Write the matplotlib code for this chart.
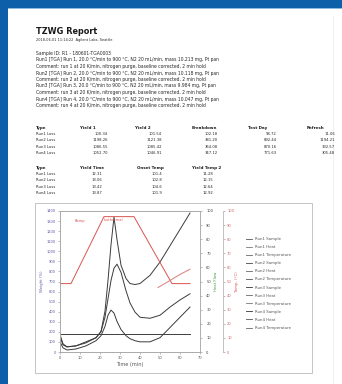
import matplotlib
matplotlib.use("Agg")
import matplotlib.pyplot as plt
from matplotlib.patches import Rectangle
from matplotlib.lines import Line2D

W, H = 342, 384

# ---- report text -------------------------------------------------------
title = "TZWG Report"
subtitle = "2018-06-01 11:14:22  Agilent Labs, Seattle"
body_lines = [
    "Sample ID: R1 - 180601-TGA0003",
    "Run1 [TGA] Run 1, 20.0 °C/min to 900 °C, N2 20 mL/min, mass 10.213 mg, Pt pan",
    "Comment: run 1 at 20 K/min, nitrogen purge, baseline corrected, 2 min hold",
    "Run2 [TGA] Run 2, 20.0 °C/min to 900 °C, N2 20 mL/min, mass 10.118 mg, Pt pan",
    "Comment: run 2 at 20 K/min, nitrogen purge, baseline corrected, 2 min hold",
    "Run3 [TGA] Run 3, 20.0 °C/min to 900 °C, N2 20 mL/min, mass 9.984 mg, Pt pan",
    "Comment: run 3 at 20 K/min, nitrogen purge, baseline corrected, 2 min hold",
    "Run4 [TGA] Run 4, 20.0 °C/min to 900 °C, N2 20 mL/min, mass 10.047 mg, Pt pan",
    "Comment: run 4 at 20 K/min, nitrogen purge, baseline corrected, 2 min hold",
]

table1_header = ["Type", "Yield 1", "Yield 2", "Breakdown", "Test Day", "Refresh"]
table1_rows = [
    ["Run1 Loss", "100.34", "101.54", "102.18", "98.72", "11.06"],
    ["Run2 Loss", "1198.26", "1121.38", "381.20", "892.44", "1194.21"],
    ["Run3 Loss", "1086.55", "1085.42", "364.08", "870.16", "332.57"],
    ["Run4 Loss", "1052.70", "1046.91", "347.12", "771.63", "305.48"],
]
table2_header = ["Type", "Yield Time", "Onset Temp", "Yield Temp 2"]
table2_rows = [
    ["Run1 Loss", "12.31", "101.4", "11.28"],
    ["Run2 Loss", "13.06", "102.8", "12.15"],
    ["Run3 Loss", "13.42", "104.6", "12.64"],
    ["Run4 Loss", "13.87", "101.9", "12.92"],
]

# ---- chart data -------------------------------------------------------
time_min = [0, 1.5, 3.5, 8, 13, 18, 20.5, 22.5, 24, 25.5, 27, 28.5,
            30.5, 33, 35, 37.5, 40, 45, 50, 55, 60, 65]
run_a = [152, 71, 51, 61, 101, 142, 203, 406, 710, 1065, 1339, 1116,
         862, 730, 680, 670, 680, 761, 893, 1055, 1217, 1380]
run_b = [172, 81, 51, 61, 91, 142, 203, 345, 528, 710, 832, 872,
         791, 609, 487, 396, 345, 335, 365, 446, 517, 578]
run_c = [101, 41, 20, 30, 61, 112, 162, 254, 365, 416, 386, 304,
         223, 162, 132, 112, 101, 101, 142, 243, 345, 446]
baseline_t = [0, 65]
baseline_v = [183, 183]

temp_t = [0, 5.5, 22, 37, 56, 65]
temp_v = [48.5, 48.5, 96, 96, 48.5, 48.5]
temp2_t = [49, 55, 60, 65]
temp2_v = [45.7, 50.7, 55.0, 58.7]

legend_labels = ["Run1 Sample", "Run1 Heat", "Run1 Temperature",
                 "Run2 Sample", "Run2 Heat", "Run2 Temperature",
                 "Run3 Sample", "Run3 Heat", "Run3 Temperature",
                 "Run4 Sample", "Run4 Heat", "Run4 Temperature"]
legend_colors = ["#555555", "#777777", "#666666",
                 "#444444", "#666666", "#555555",
                 "#333333", "#666666", "#777777",
                 "#333333", "#555555", "#666666"]


def fx(px):
    return px / W


def fy(py):
    return 1 - py / H


fig = plt.figure(figsize=(W / 100, H / 100), dpi=100)
fig.patch.set_facecolor("white")

# blue frame on the top and left edges
blue = "#0e5fa9"
fig.add_artist(Rectangle((0, fy(7.5)), 1, 7.5 / H, transform=fig.transFigure,
                         color=blue, lw=0, zorder=0))
fig.add_artist(Rectangle((0, fy(9)), 1, 1.5 / H, transform=fig.transFigure,
                         color="#8db8e0", lw=0, zorder=0))
fig.add_artist(Rectangle((0, 0), 7.5 / W, 1, transform=fig.transFigure,
                         color=blue, lw=0, zorder=0))
fig.add_artist(Line2D([fx(333), fx(333)], [fy(15), 0], transform=fig.transFigure,
                      color="#eeeeee", lw=0.6))

txt_col = "#262626"
fig.text(fx(36), fy(31), title, fontsize=5.9, fontweight="bold",
         color="#1a1a1a", va="center", ha="left")
fig.text(fx(36), fy(39.5), subtitle, fontsize=2.5, color=txt_col,
         va="center", ha="left")

ys = [53, 60, 66.5, 73, 79.5, 86, 92.5, 99, 105.5]
for y, line in zip(ys, body_lines):
    fig.text(fx(36), fy(y), line, fontsize=3.25, color=txt_col,
             va="center", ha="left")

# table 1
t1_head_x = [36, 80, 135, 192, 248, 307]
t1_val_x = [36, 108, 162, 218, 277, 335]
for i, h in enumerate(table1_header):
    fig.text(fx(t1_head_x[i]), fy(128), h, fontsize=2.9, fontweight="bold",
             color="#1a1a1a", va="center", ha="left")
for r, row in enumerate(table1_rows):
    y = 134 + r * 6.4
    for i, v in enumerate(row):
        fig.text(fx(t1_val_x[i]), fy(y), v, fontsize=2.7, color=txt_col,
                 va="center", ha="left" if i == 0 else "right")

# table 2
t2_head_x = [36, 80, 137, 192]
t2_val_x = [36, 102, 162, 213]
for i, h in enumerate(table2_header):
    fig.text(fx(t2_head_x[i]), fy(168), h, fontsize=2.9, fontweight="bold",
             color="#1a1a1a", va="center", ha="left")
for r, row in enumerate(table2_rows):
    y = 174 + r * 6.4
    for i, v in enumerate(row):
        fig.text(fx(t2_val_x[i]), fy(y), v, fontsize=2.7, color=txt_col,
                 va="center", ha="left" if i == 0 else "right")

# chart frame
fig.add_artist(Rectangle((fx(35), fy(373)), (312 - 35) / W, (373 - 203) / H,
                         transform=fig.transFigure, fill=False,
                         ec="#c4c4c4", lw=0.7))

ax = fig.add_axes([fx(60), fy(352), (200 - 60) / W, (352 - 211) / H])
ax1 = ax.twinx()
ax2 = ax.twinx()
ax2.spines["right"].set_position(("axes", 1 + 23 / 140))

for a in (ax, ax1, ax2):
    for s in a.spines.values():
        s.set_color("#aaaaaa")
        s.set_linewidth(0.5)
    a.tick_params(labelsize=2.6, length=1.5, width=0.4, pad=1.5,
                  colors="#888888")

ax.plot(time_min, run_a, color="#3a3a3a", lw=0.7)
ax.plot(time_min, run_b, color="#3a3a3a", lw=0.7)
ax.plot(time_min, run_c, color="#3a3a3a", lw=0.7)
ax.plot(baseline_t, baseline_v, color="#404040", lw=0.7)
ax2.plot(temp_t, temp_v, color="#d9534f", lw=0.7)
ax2.plot(temp2_t, temp2_v, color="#e07a7a", lw=0.7)

ax.set_xlim(0, 70)
ax.set_ylim(0, 1400)
ax.set_xticks(range(0, 71, 10))
ax.set_yticks(range(0, 1401, 100))
ax1.set_ylim(0, 100)
ax1.set_yticks(range(0, 101, 10))
ax2.set_ylim(0, 100)
ax2.set_yticks(range(0, 101, 10))

ax.tick_params(axis="y", labelcolor="#5b5ba8")
ax.tick_params(axis="x", labelcolor="#555555")
ax1.tick_params(axis="y", labelcolor="#444444", pad=3)
ax2.tick_params(axis="y", labelcolor="#cc6666")

ax.set_xlabel("Time (min)", fontsize=3.6, color="#555555", labelpad=1)
ax.set_ylabel("Weight (%)", fontsize=2.8, color="#6a5aa8", labelpad=1.5)
ax1.set_ylabel("Heat Flow", fontsize=2.8, color="#3f9a3f", labelpad=0.5)
ax2.set_ylabel("Temp. (°C)", fontsize=2.8, color="#d9534f", labelpad=0.5)

ax.text((75 - 60) / 140, (352 - 221) / 141, "Ramp", transform=ax.transAxes,
        fontsize=2.6, color="#d9534f", ha="left", va="center")
ax.text((104 - 60) / 140, (352 - 220) / 141, "Isothermal", transform=ax.transAxes,
        fontsize=2.6, color="#d9534f", ha="left", va="center")

handles = [Line2D([], [], color=c, lw=0.6) for c in legend_colors]
fig.legend(handles, legend_labels, loc="upper left",
           bbox_to_anchor=(fx(246), fy(237)), fontsize=2.8, frameon=False,
           handlelength=1.6, handletextpad=0.6, labelspacing=1.05,
           borderaxespad=0, borderpad=0, labelcolor="#555555")

fig.savefig("out.png", dpi=100, facecolor="white")
